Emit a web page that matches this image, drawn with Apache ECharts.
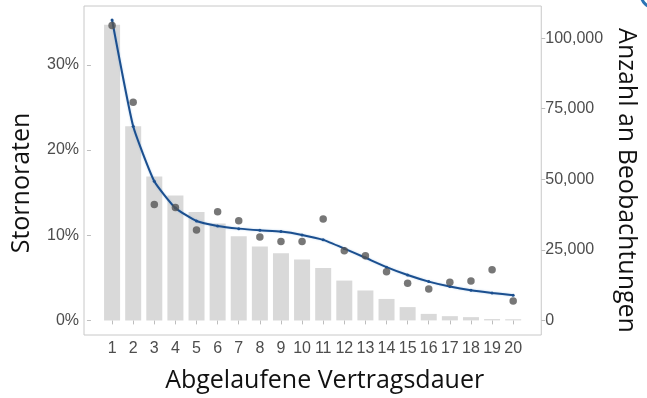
<!DOCTYPE html>
<html>
<head>
<meta charset="utf-8">
<script src="https://cdn.jsdelivr.net/npm/echarts@6/dist/echarts.min.js"></script>
<style>
  html, body { margin: 0; padding: 0; background: #fff; }
  #chart { width: 647px; height: 398px; }
</style>
</head>
<body>
<div id="chart"></div>
<script>
// Contract duration in years (x positions)
const durations = [1, 2, 3, 4, 5, 6, 7, 8, 9, 10, 11, 12, 13, 14, 15, 16, 17, 18, 19, 20];

// Number of observations per duration (right axis, bars)
const observations = [104700, 68800, 51000, 44200, 38400, 34300, 29800, 26200, 23800, 21600,
                      18600, 14100, 10600, 7600, 4700, 2300, 1500, 1150, 460, 400];

// Observed cancellation rate per duration (left axis, dots)
const cancelRates = [0.346, 0.256, 0.136, 0.1325, 0.106, 0.1275, 0.117, 0.098, 0.0925, 0.0925,
                     0.119, 0.0816, 0.0758, 0.0572, 0.0435, 0.0369, 0.0447, 0.0462, 0.0595, 0.0229];

// Smoothed trend of the cancellation rate (left axis, line)
const trendRates = [0.3526, 0.2278, 0.1633, 0.1318, 0.1166, 0.1108, 0.1077, 0.1057, 0.1042, 0.1003,
                    0.0945, 0.0843, 0.0735, 0.0625, 0.0532, 0.0455, 0.0397, 0.0353, 0.0322, 0.0295];

// Tick labels
const rateTicks = [0, 0.1, 0.2, 0.3];
const countTicks = [0, 25000, 50000, 75000, 100000];

const pair = (vals) => durations.map((d, i) => [d, vals[i]]);

const tickFont = { fontFamily: 'Liberation Sans, Arial, sans-serif', fontSize: 16, color: '#4d4d4d' };
const titleFont = { fontFamily: 'Open Sans, sans-serif', fontSize: 25, color: '#111' };
const tickLine = { lineStyle: { color: '#bdbdbd', width: 1 }, length: 4 };

const chart = echarts.init(document.getElementById('chart'), null, { renderer: 'canvas' });

chart.setOption({
  animation: false,
  backgroundColor: '#ffffff',
  grid: {
    left: 84, top: 6, right: 100, bottom: 61,
    show: true, borderColor: '#c8c8c8', borderWidth: 1, backgroundColor: 'transparent'
  },
  xAxis: {
    type: 'value',
    min: -0.33, max: 21.33,
    name: 'Abgelaufene Vertragsdauer',
    nameLocation: 'middle',
    nameGap: 33,
    nameTextStyle: Object.assign({}, titleFont, { padding: [0, 0, 0, 24] }),
    axisLine: { show: false },
    axisTick: Object.assign({ show: true, customValues: durations }, tickLine),
    axisLabel: Object.assign({ customValues: durations, margin: 6 }, tickFont),
    splitLine: { show: false }
  },
  yAxis: [
    {
      type: 'value',
      position: 'left',
      min: -0.01715, max: 0.369,
      name: 'Stornoraten',
      nameLocation: 'middle',
      nameRotate: 90,
      nameGap: 50,
      nameTextStyle: Object.assign({}, titleFont, { padding: [0, 25, 0, 0] }),
      axisLine: { show: false },
      axisTick: Object.assign({ show: true, customValues: rateTicks }, tickLine),
      axisLabel: Object.assign({
        customValues: rateTicks,
        margin: 5,
        formatter: (v) => Math.round(v * 100) + '%'
      }, tickFont),
      splitLine: { show: false }
    },
    {
      type: 'value',
      position: 'right',
      min: -5176, max: 111373,
      name: 'Anzahl an Beobachtungen',
      nameLocation: 'middle',
      nameRotate: -90,
      nameGap: 72,
      nameTextStyle: Object.assign({}, titleFont, { padding: [0, 0, 0, 20] }),
      axisLine: { show: false },
      axisTick: Object.assign({ show: true, customValues: countTicks }, tickLine),
      axisLabel: Object.assign({
        customValues: countTicks,
        margin: 4,
        formatter: (v) => v.toLocaleString('en-US')
      }, tickFont),
      splitLine: { show: false }
    }
  ],
  series: [
    {
      name: 'Beobachtungen',
      type: 'bar',
      yAxisIndex: 1,
      barWidth: 16,
      itemStyle: { color: '#d9d9d9' },
      data: pair(observations),
      z: 1
    },
    {
      name: 'Trend',
      type: 'line',
      yAxisIndex: 0,
      smooth: 0.15,
      symbol: 'circle',
      symbolSize: 3,
      itemStyle: { color: '#1b4f8f' },
      lineStyle: { color: '#1b4f8f', width: 2, shadowColor: 'rgba(90,150,210,0.45)', shadowBlur: 2 },
      data: pair(trendRates),
      z: 3
    },
    {
      name: 'Stornorate',
      type: 'scatter',
      yAxisIndex: 0,
      symbol: 'circle',
      symbolSize: 7.5,
      itemStyle: { color: '#555555' },
      data: pair(cancelRates),
      z: 4
    }
  ],
  graphic: [
    {
      type: 'circle',
      shape: { cx: 655, cy: -6, r: 14 },
      style: { fill: 'none', stroke: '#2b74b5', lineWidth: 3 },
      silent: true
    }
  ]
});
</script>
</body>
</html>
